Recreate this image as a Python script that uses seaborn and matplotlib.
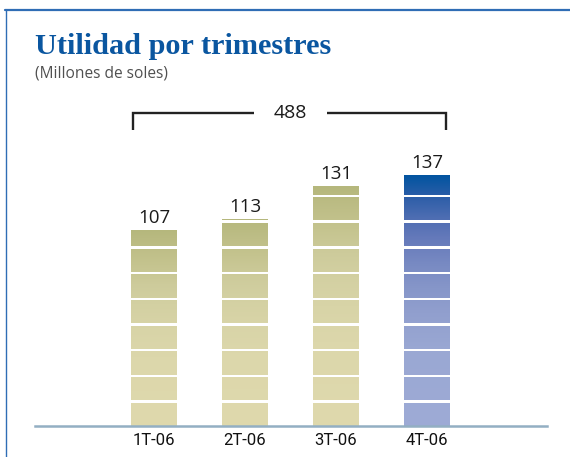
import numpy as np
import pandas as pd
import matplotlib
matplotlib.use("Agg")
import matplotlib.pyplot as plt
from matplotlib.lines import Line2D
from matplotlib.colors import LinearSegmentedColormap
import seaborn as sns

# ---- data ----
quarters = ["1T-06", "2T-06", "3T-06", "4T-06"]
values = [107, 113, 131, 137]
total_label = "488"
title = "Utilidad por trimestres"
subtitle = "(Millones de soles)"

# ---- style ----
SEG = 14  # units per stacked block
green_nodes = [(0.0, "#DFD9AD"), (0.35, "#DCD7AB"), (0.5, "#D8D4A7"), (0.62, "#D3D0A2"),
               (0.72, "#CDCB9B"), (0.82, "#C5C48F"), (0.9, "#BEBE87"), (1.0, "#B5B77C")]
blue_nodes = [(0.0, "#9EABD6"), (0.3, "#9AA8D3"), (0.45, "#919FCE"), (0.55, "#8696C9"),
              (0.65, "#7789C2"), (0.75, "#6479BA"), (0.83, "#4D6DB2"), (0.91, "#2D5EA8"),
              (1.0, "#0054A0")]
green_cmap = LinearSegmentedColormap.from_list("g", green_nodes)
blue_cmap = LinearSegmentedColormap.from_list("b", blue_nodes)
bar_cmaps = [green_cmap, green_cmap, green_cmap, blue_cmap]

sns.set_style("white")
plt.rcParams["font.family"] = ["DejaVu Sans"]

W, H = 570, 457
fig = plt.figure(figsize=(W / 100, H / 100), dpi=100)
ax_bottom_px = 426
ax_top_px = 100
px_per_unit = 1.835
ax = fig.add_axes([35 / W, (H - ax_bottom_px) / H, 512 / W, (ax_bottom_px - ax_top_px) / H])

bar_w = 0.505
df = pd.DataFrame({"q": quarters, "v": values})
base_cols = [c(0.5) for c in bar_cmaps]
sns.barplot(data=df, x="q", y="v", hue="q", palette=base_cols, order=quarters,
            width=bar_w, saturation=1, legend=False, errorbar=None,
            linewidth=0, ax=ax)

# vertical gradient inside each bar, clipped to the bar patch
grad = np.linspace(0, 1, 256).reshape(-1, 1)
for patch, cm in zip(list(ax.patches), bar_cmaps):
    x0, y0 = patch.get_x(), patch.get_y()
    w, h = patch.get_width(), patch.get_height()
    im = ax.imshow(grad, cmap=cm, origin="lower", aspect="auto",
                   extent=(x0, x0 + w, y0, y0 + h), interpolation="bilinear", zorder=2)
    im.set_clip_path(patch)

# white gaps between blocks
xpos = np.arange(len(quarters))
gap = 1.4
max_n = int(np.ceil(max(values) / SEG))
for k in range(1, max_n):
    for i, v in enumerate(values):
        if v > SEG * k:
            ax.bar(xpos[i], gap, bottom=SEG * k - gap, width=bar_w + 0.01,
                   color="white", linewidth=0, zorder=3)

# value labels
for i, v in enumerate(values):
    ax.text(xpos[i], v + 3.6, str(v), ha="center", va="baseline",
            fontsize=13.5, family=["Open Sans", "DejaVu Sans"], color="#1A1A1A")

# total bracket
by = max(values) + 33.6
bl = xpos[0] - bar_w / 2 + 0.025
br = xpos[-1] + bar_w / 2 - 0.04
mid = (xpos[0] + xpos[-1]) / 2
hg = 0.405
kw = dict(color="#222222", lw=1.7, clip_on=False, solid_capstyle="butt", solid_joinstyle="miter")
ax.plot([bl, bl, mid - hg], [by - 9.2, by, by], **kw)
ax.plot([mid + hg, br, br], [by, by, by - 9.2], **kw)
ax.text(mid, by - 2.8, total_label, ha="center", va="baseline",
        fontsize=14, family=["Open Sans", "DejaVu Sans"], color="#1A1A1A")

# axes
ax.set_xlim((35 - 154) / 91, (547 - 154) / 91)
ax.set_ylim(0, (ax_bottom_px - ax_top_px) / px_per_unit)
ax.set_xticks(xpos)
ax.set_xticklabels(quarters, family=["Roboto", "DejaVu Sans"], fontsize=12,
                   fontweight="normal", color="#111111")
ax.tick_params(axis="x", length=0, pad=5)
ax.set_yticks([])
ax.set_xlabel("")
ax.set_ylabel("")
for s in ["top", "right", "left"]:
    ax.spines[s].set_visible(False)
ax.spines["bottom"].set_color("#93AFC3")
ax.spines["bottom"].set_linewidth(1.8)
ax.spines["bottom"].set_zorder(5)
ax.patch.set_alpha(0)

# titles
fig.text(35 / W, 1 - 54.5 / H, title, ha="left", va="baseline",
         family=["Liberation Serif", "DejaVu Serif"], fontweight="bold",
         fontsize=21.8, color="#0A56A0")
fig.text(35 / W, 1 - 77.5 / H, subtitle, ha="left", va="baseline",
         family=["Open Sans", "DejaVu Sans"], fontsize=11.2, color="#505050")

# frame lines
fig.add_artist(Line2D([5 / W, 1], [1 - 10 / H, 1 - 10 / H], color="#2F6DB5", lw=1.6))
fig.add_artist(Line2D([5.5 / W, 5.5 / W], [0, 1 - 10 / H], color="#2F6DB5", lw=1.0))

fig.savefig("out.png", dpi=100)
